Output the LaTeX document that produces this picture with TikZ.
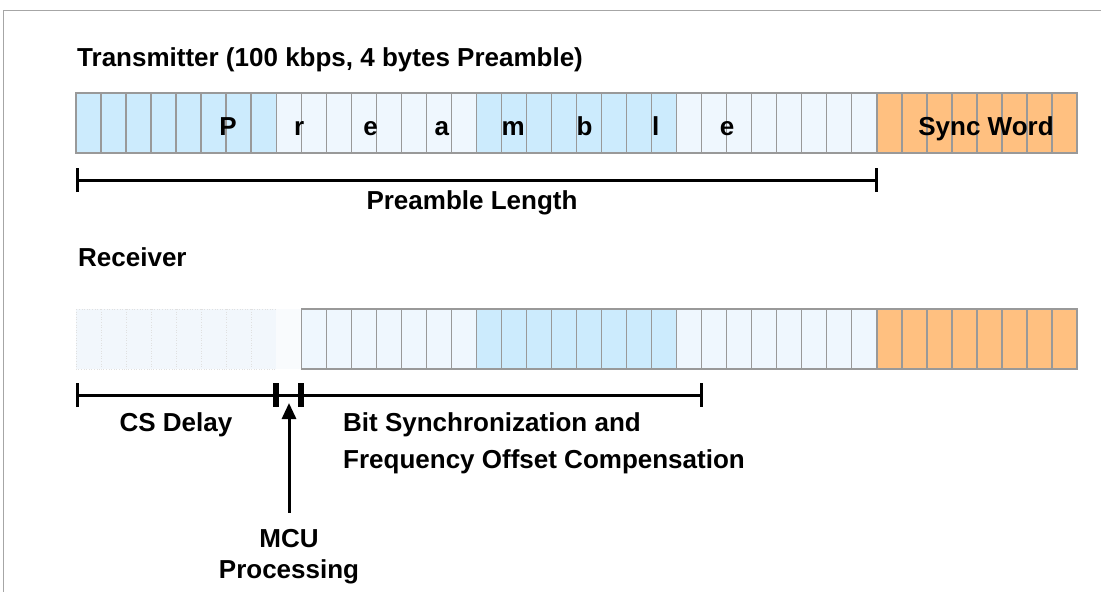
\documentclass[tikz,border=0pt]{standalone}
\usepackage{fontspec}
\setmainfont{Liberation Sans}
\usetikzlibrary{arrows.meta}
\definecolor{Cell}{HTML}{999999}
\definecolor{Sky}{HTML}{CCEBFD}
\definecolor{Mist}{HTML}{EFF7FE}
\definecolor{Peach}{HTML}{FFC080}
\definecolor{Ghost}{HTML}{F2F7FC}
\definecolor{Frame}{HTML}{A6A6A6}
\tikzset{
  bit/.style={draw=Cell,line width=1.4pt},
  ghostbit/.style={draw=Cell!30,dotted,line width=0.6pt,fill=Ghost},
  dimline/.style={line width=3pt,{Bar[width=24pt]}-{Bar[width=24pt]}},
  txt/.style={font=\bfseries\fontsize{26}{29}\selectfont,text=black,inner sep=0pt},
  pointer/.style={-{Triangle[length=16pt,width=14pt]},line width=3pt}
}
\begin{document}
\begin{tikzpicture}[x=1pt,y=-1pt]
  \useasboundingbox (0,0) rectangle (1101,592);
  \draw[Frame,line width=1.2pt] (3.5,592) -- (3.5,10.5) -- (1101,10.5);
  \node[txt,anchor=base west] (tx) at (77,66) {Transmitter (100 kbps, 4 bytes Preamble)};
  \foreach \a/\b/\c in {0/7/Sky,8/15/Mist,16/23/Sky,24/31/Mist,32/39/Peach}
    \foreach \i in {\a,...,\b}
      \draw[bit,fill=\c] (76+\i*25.025,93) rectangle ++(25.025,60);
  \foreach \ch [count=\k from 0] in {P,r,e,a,m,b,l,e}
    \node[txt,anchor=base] (ch-\k) at (228+71.3*\k,135) {\ch};
  \node[txt,anchor=base] (sync) at (986,135) {Sync Word};
  \coordinate (pl-l) at (76,180);
  \coordinate (pl-r) at (878,180);
  \draw[dimline] (pl-l) -- (pl-r);
  \node[txt,anchor=base] (plen) at (472,209) {Preamble Length};
  \node[txt,anchor=base west] (rx) at (78,266) {Receiver};
  \foreach \i in {0,...,7}
    \draw[ghostbit] (76+\i*25.025,309) rectangle ++(25.025,60);
  \fill[white!50!Ghost] (76+8*25.025,309) rectangle ++(25.025,60);
  \foreach \a/\b/\c in {9/15/Mist,16/23/Sky,24/31/Mist,32/39/Peach}
    \foreach \i in {\a,...,\b}
      \draw[bit,fill=\c] (76+\i*25.025,309) rectangle ++(25.025,60);
  \coordinate (cs-l) at (76,395);
  \coordinate (cs-r) at (276,395);
  \coordinate (bs-l) at (300.5,395);
  \coordinate (bs-r) at (703,395);
  \draw[dimline] (cs-l) -- (cs-r);
  \draw[dimline] (cs-r) -- (bs-l);
  \draw[dimline] (bs-l) -- (bs-r);
  \node[txt,anchor=base] (cs) at (176,431) {CS Delay};
  \node[txt,anchor=base west] (bitsync) at (343,431) {Bit Synchronization and};
  \node[txt,anchor=base west] (freq) at (343,468) {Frequency Offset Compensation};
  \node[txt,anchor=base] (mcu) at (289,547) {MCU};
  \node[txt,anchor=base] (proc) at (289,578) {Processing};
  \coordinate (mcu-tip) at (289,403);
  \draw[pointer] ([yshift=16pt]mcu.north) -- (mcu-tip);
\end{tikzpicture}
\end{document}
